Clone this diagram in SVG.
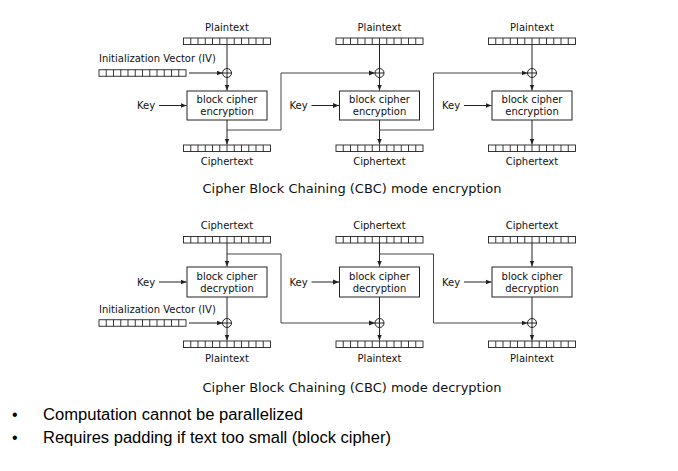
<svg xmlns="http://www.w3.org/2000/svg" xmlns:xlink="http://www.w3.org/1999/xlink" width="678" height="471" viewBox="0 0 678 471">
<style>
.lbl{font-family:"DejaVu Sans",sans-serif;font-size:10px;fill:#111;}
.mid{text-anchor:middle;}
.ttl{font-family:"DejaVu Sans",sans-serif;font-size:13px;fill:#111;text-anchor:middle;}
.bul{font-family:"Liberation Sans","Open Sans",sans-serif;font-size:16px;fill:#000;}
.ln{fill:none;stroke:#222;stroke-width:1;}
.fb{fill:none;stroke:#444;stroke-width:1;}
.box{fill:#fff;stroke:#222;stroke-width:1;}
.bar{fill:#fff;stroke:#222;stroke-width:0.9;}
</style>
<defs>
<marker id="ah" viewBox="0 0 6 6" refX="6" refY="3" markerWidth="6" markerHeight="6" markerUnits="userSpaceOnUse" orient="auto">
<path d="M0,0.6 L6,3 L0,5.4 z" fill="#222"/>
</marker>
<g id="bar">
<rect class="bar" x="0" y="0" width="87" height="6.5"/>
<path class="bar" d="M7.25,0v6.5M14.5,0v6.5M21.75,0v6.5M29,0v6.5M36.25,0v6.5M43.5,0v6.5M50.75,0v6.5M58,0v6.5M65.25,0v6.5M72.5,0v6.5M79.75,0v6.5"/>
</g>
<g id="xor">
<circle class="ln" cx="0" cy="0" r="4.5" fill="#fff"/>
<path class="ln" d="M-4.5,0H4.5M0,-4.5V4.5"/>
</g>
</defs>
<rect width="678" height="471" fill="#fff"/>

<!-- connectors -->
<g id="connectors">
<!-- encryption -->
<path class="ln" d="M227,44.5V68.5"/>
<path class="ln" d="M227,77.5V90.5" marker-end="url(#ah)"/>
<path class="ln" d="M227,120V144.5" marker-end="url(#ah)"/>
<path class="ln" d="M159,105.5H186.5" marker-end="url(#ah)"/>
<path class="ln" d="M189,73H222.5" marker-end="url(#ah)"/>
<path class="fb" d="M227,130H281V73H375" marker-end="url(#ah)"/>

<path class="ln" d="M379.5,44.5V68.5"/>
<path class="ln" d="M379.5,77.5V90.5" marker-end="url(#ah)"/>
<path class="ln" d="M379.5,120V144.5" marker-end="url(#ah)"/>
<path class="ln" d="M311.5,105.5H339" marker-end="url(#ah)"/>
<path class="fb" d="M379.5,130H433.5V73H527.5" marker-end="url(#ah)"/>

<path class="ln" d="M532,44.5V68.5"/>
<path class="ln" d="M532,77.5V90.5" marker-end="url(#ah)"/>
<path class="ln" d="M532,120V144.5" marker-end="url(#ah)"/>
<path class="ln" d="M464,105.5H491.5" marker-end="url(#ah)"/>

<!-- decryption -->
<path class="ln" d="M227,243V266.5" marker-end="url(#ah)"/>
<path class="ln" d="M227,297V318.5"/>
<path class="ln" d="M227,327.5V340.5" marker-end="url(#ah)"/>
<path class="ln" d="M159,282H186.5" marker-end="url(#ah)"/>
<path class="ln" d="M189,323H222.5" marker-end="url(#ah)"/>
<path class="fb" d="M227,254H281V323H375" marker-end="url(#ah)"/>

<path class="ln" d="M379.5,243V266.5" marker-end="url(#ah)"/>
<path class="ln" d="M379.5,297V318.5"/>
<path class="ln" d="M379.5,327.5V340.5" marker-end="url(#ah)"/>
<path class="ln" d="M311.5,282H339" marker-end="url(#ah)"/>
<path class="fb" d="M379.5,254H433.5V323H527.5" marker-end="url(#ah)"/>

<path class="ln" d="M532,243V266.5" marker-end="url(#ah)"/>
<path class="ln" d="M532,297V318.5"/>
<path class="ln" d="M532,327.5V340.5" marker-end="url(#ah)"/>
<path class="ln" d="M464,282H491.5" marker-end="url(#ah)"/>
</g>

<!-- encryption nodes -->
<g id="enc-iv">
<text class="lbl" x="99" y="62">Initialization Vector (IV)</text>
<use xlink:href="#bar" x="99" y="69.75"/>
</g>
<g id="enc-col1">
<text class="lbl mid" x="227" y="31">Plaintext</text>
<use xlink:href="#bar" x="183.5" y="38"/>
<use xlink:href="#xor" x="227" y="73"/>
<text class="lbl" x="137" y="109">Key</text>
<rect class="box" x="187" y="91" width="80" height="29"/>
<text class="lbl mid" x="227" y="102.5">block cipher</text>
<text class="lbl mid" x="227" y="115">encryption</text>
<use xlink:href="#bar" x="183.5" y="145"/>
<text class="lbl mid" x="227" y="164.5">Ciphertext</text>
</g>
<g id="enc-col2">
<text class="lbl mid" x="379.5" y="31">Plaintext</text>
<use xlink:href="#bar" x="336" y="38"/>
<use xlink:href="#xor" x="379.5" y="73"/>
<text class="lbl" x="289.5" y="109">Key</text>
<rect class="box" x="339.5" y="91" width="80" height="29"/>
<text class="lbl mid" x="379.5" y="102.5">block cipher</text>
<text class="lbl mid" x="379.5" y="115">encryption</text>
<use xlink:href="#bar" x="336" y="145"/>
<text class="lbl mid" x="379.5" y="164.5">Ciphertext</text>
</g>
<g id="enc-col3">
<text class="lbl mid" x="532" y="31">Plaintext</text>
<use xlink:href="#bar" x="488.5" y="38"/>
<use xlink:href="#xor" x="532" y="73"/>
<text class="lbl" x="442" y="109">Key</text>
<rect class="box" x="492" y="91" width="80" height="29"/>
<text class="lbl mid" x="532" y="102.5">block cipher</text>
<text class="lbl mid" x="532" y="115">encryption</text>
<use xlink:href="#bar" x="488.5" y="145"/>
<text class="lbl mid" x="532" y="164.5">Ciphertext</text>
</g>
<text class="ttl" x="352" y="193">Cipher Block Chaining (CBC) mode encryption</text>

<!-- decryption nodes -->
<g id="dec-col1">
<text class="lbl mid" x="227" y="229">Ciphertext</text>
<use xlink:href="#bar" x="183.5" y="236.5"/>
<text class="lbl" x="137" y="285.5">Key</text>
<rect class="box" x="187" y="267" width="80" height="30"/>
<text class="lbl mid" x="227" y="279.5">block cipher</text>
<text class="lbl mid" x="227" y="292">decryption</text>
<use xlink:href="#xor" x="227" y="323"/>
<use xlink:href="#bar" x="183.5" y="341"/>
<text class="lbl mid" x="227" y="362">Plaintext</text>
</g>
<g id="dec-iv">
<text class="lbl" x="99" y="313">Initialization Vector (IV)</text>
<use xlink:href="#bar" x="99" y="319.75"/>
</g>
<g id="dec-col2">
<text class="lbl mid" x="379.5" y="229">Ciphertext</text>
<use xlink:href="#bar" x="336" y="236.5"/>
<text class="lbl" x="289.5" y="285.5">Key</text>
<rect class="box" x="339.5" y="267" width="80" height="30"/>
<text class="lbl mid" x="379.5" y="279.5">block cipher</text>
<text class="lbl mid" x="379.5" y="292">decryption</text>
<use xlink:href="#xor" x="379.5" y="323"/>
<use xlink:href="#bar" x="336" y="341"/>
<text class="lbl mid" x="379.5" y="362">Plaintext</text>
</g>
<g id="dec-col3">
<text class="lbl mid" x="532" y="229">Ciphertext</text>
<use xlink:href="#bar" x="488.5" y="236.5"/>
<text class="lbl" x="442" y="285.5">Key</text>
<rect class="box" x="492" y="267" width="80" height="30"/>
<text class="lbl mid" x="532" y="279.5">block cipher</text>
<text class="lbl mid" x="532" y="292">decryption</text>
<use xlink:href="#xor" x="532" y="323"/>
<use xlink:href="#bar" x="488.5" y="341"/>
<text class="lbl mid" x="532" y="362">Plaintext</text>
</g>
<text class="ttl" x="352" y="392">Cipher Block Chaining (CBC) mode decryption</text>

<!-- bullets -->
<g id="bullets">
<text class="bul" x="12" y="420">•</text>
<text class="bul" x="43" y="420" textLength="260" lengthAdjust="spacingAndGlyphs">Computation cannot be parallelized</text>
<text class="bul" x="12" y="443">•</text>
<text class="bul" x="43" y="443" textLength="348" lengthAdjust="spacingAndGlyphs">Requires padding if text too small (block cipher)</text>
</g>
</svg>
